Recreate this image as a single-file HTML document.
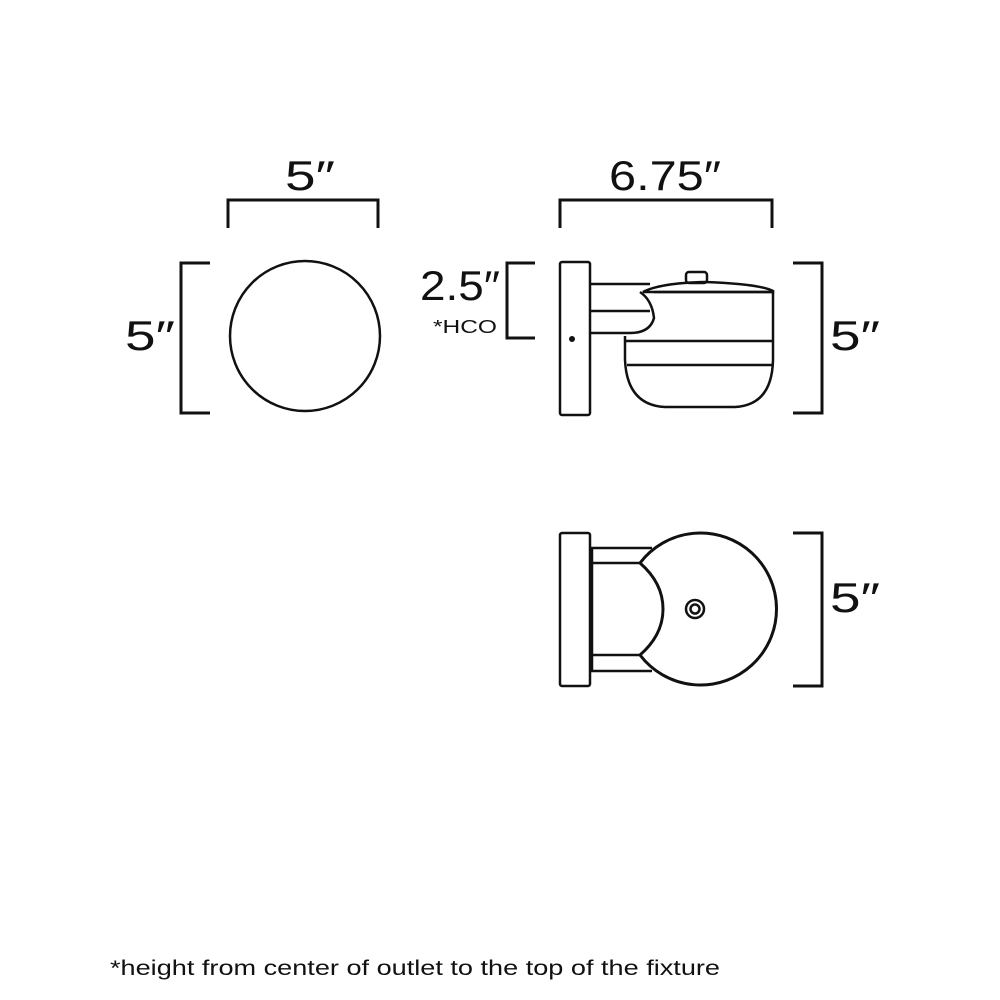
<!DOCTYPE html>
<html><head><meta charset="utf-8"><style>
html,body{margin:0;padding:0;background:#fff;width:1000px;height:1000px;overflow:hidden}
svg{display:block}
text{font-family:"Liberation Sans",sans-serif;fill:#111}
</style></head><body>
<svg width="1000" height="1000" viewBox="0 0 1000 1000" fill="none" stroke="#111" stroke-width="3">
<!-- front view -->
<polyline points="228,228 228,200 378,200 378,228"/>
<text x="310" y="190" font-size="42" text-anchor="middle" stroke="none" textLength="50" lengthAdjust="spacingAndGlyphs">5″</text>
<polyline points="210,263 181,263 181,413 210,413"/>
<text x="150" y="350" font-size="42" text-anchor="middle" stroke="none" textLength="50" lengthAdjust="spacingAndGlyphs">5″</text>
<circle cx="305" cy="336" r="75" stroke-width="2.5"/>

<!-- side view -->
<polyline points="560,228 560,200 772,200 772,228"/>
<text x="665" y="190" font-size="42" text-anchor="middle" stroke="none" textLength="112" lengthAdjust="spacingAndGlyphs">6.75″</text>
<polyline points="535,263 507,263 507,338 535,338"/>
<text x="460" y="300" font-size="42" text-anchor="middle" stroke="none" textLength="80" lengthAdjust="spacingAndGlyphs">2.5″</text>
<text x="465" y="333" font-size="18" text-anchor="middle" stroke="none" textLength="64" lengthAdjust="spacingAndGlyphs">*HCO</text>
<polyline points="793,263 822,263 822,413 793,413"/>
<text x="855" y="350" font-size="42" text-anchor="middle" stroke="none" textLength="50" lengthAdjust="spacingAndGlyphs">5″</text>
<g stroke-width="2.5">
<rect x="560" y="262" width="30" height="153" rx="2"/>
<line x1="590" y1="284" x2="650" y2="284"/>
<line x1="590" y1="311" x2="650" y2="311"/>
<line x1="590" y1="333" x2="630" y2="333"/>
<path d="M640,292 Q652,300 654,318 Q650,333 630,333"/>
<path d="M643,292 Q660,283 705,282 Q760,284 773,291 L773,292 L643,292 Z"/>
<path d="M654,292 L773,292 L773,360 Q772,405 735,407 L665,407 Q627,405 625,360 L625,336"/>
<line x1="625" y1="341" x2="772" y2="341"/>
<line x1="627" y1="365" x2="772" y2="365"/>
<rect x="686" y="272" width="21" height="11" rx="3"/>
</g>
<circle cx="572" cy="339" r="3" fill="#111" stroke="none"/>

<!-- bottom view -->
<polyline points="793,533 822,533 822,686 793,686"/>
<text x="855" y="612" font-size="42" text-anchor="middle" stroke="none" textLength="50" lengthAdjust="spacingAndGlyphs">5″</text>
<g stroke-width="2.5">
<rect x="560" y="533" width="30" height="153" rx="2"/>
<line x1="590" y1="548" x2="652" y2="548"/>
<line x1="590" y1="563" x2="640" y2="563"/>
<line x1="590" y1="655" x2="640" y2="655"/>
<line x1="590" y1="671" x2="652" y2="671"/>
<line x1="592" y1="548" x2="592" y2="671"/>
<path d="M640,563 A76,76 0 1 1 640,655 Q663,635 663,609 Q663,583 640,563 Z" stroke-width="3"/>
<circle cx="695" cy="609" r="9"/>
<circle cx="695" cy="609" r="4.5"/>
</g>

<text x="110" y="975" font-size="21" stroke="none" textLength="610" lengthAdjust="spacingAndGlyphs">*height from center of outlet to the top of the fixture</text>
</svg>
</body></html>
